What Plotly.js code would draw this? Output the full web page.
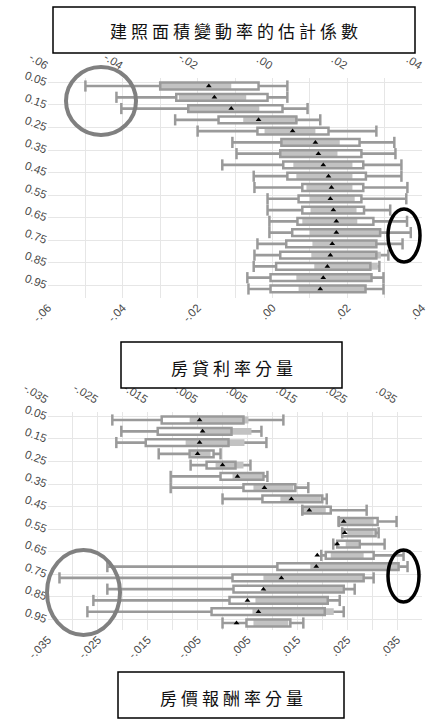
<!DOCTYPE html>
<html>
<head>
<meta charset="utf-8">
<script src="https://cdn.plot.ly/plotly-3.0.1.min.js"></script>
<style>
  html, body { margin: 0; padding: 0; background: #fff; }
  #chart { width: 440px; height: 720px; }
  #chart .annotation-text { letter-spacing: 4px; }
</style>
</head>
<body>
<div id="chart"></div>
<script>
// ---------- data ----------
const quantiles = [0.05,0.10,0.15,0.20,0.25,0.30,0.35,0.40,0.45,0.50,0.55,0.60,0.65,0.70,0.75,0.80,0.85,0.90,0.95];
const yTickRows = [0.05,0.15,0.25,0.35,0.45,0.55,0.65,0.75,0.85,0.95];
const yTickLabels = ['0.05','0.15','0.25','0.35','0.45','0.55','0.65','0.75','0.85','0.95'];

const titleMain = '建照面積變動率的估計係數';
const titlePanel1 = '房貸利率分量';
const titlePanel2 = '房價報酬率分量';

// panel 1
const p1TickVals = [-0.06,-0.05,-0.04,-0.03,-0.02,-0.01,0.00,0.01,0.02,0.03,0.04];
const p1TickText = ['-.06','','-.04','','-.02','','.00','','.02','','.04'];
const p1WhiskerLow  = [-0.050,-0.0417,-0.0404,-0.026,-0.020,-0.0107,-0.0096,-0.0134,-0.005,-0.0048,-0.0013,-0.0013,-0.0008,-0.0008,-0.004,-0.0048,-0.005,-0.0067,-0.0064];
const p1WhiskerHigh = [0.004,0.004,0.0094,0.0128,0.0278,0.0326,0.0329,0.0345,0.0345,0.0361,0.0358,0.0315,0.036,0.037,0.0348,0.031,0.0286,0.0297,0.0297];
const p1BoxLow      = [-0.030,-0.0257,-0.0225,-0.0144,-0.004,0.0024,0.0021,0.0029,0.004,0.008,0.007,0.008,0.0067,0.0053,0.0037,0.0021,0.001,-0.0005,-0.0005];
const p1BoxHigh     = [-0.0037,-0.0013,0.0027,0.0064,0.015,0.0233,0.0238,0.0243,0.025,0.0243,0.0238,0.0245,0.027,0.0288,0.0278,0.0278,0.0262,0.0265,0.0249];
const p1ShadeLow    = [-0.030,-0.025,-0.0225,-0.0078,-0.0021,0.0024,0.0021,0.0056,0.0064,0.0091,0.0099,0.0102,0.008,0.0099,0.0107,0.0104,0.0112,0.0064,0.007];
const p1ShadeHigh   = [-0.011,-0.007,-0.0035,0.0067,0.0115,0.018,0.0174,0.0214,0.0214,0.0214,0.022,0.0225,0.0227,0.0291,0.0278,0.029,0.0282,0.0265,0.0249];
const p1Point       = [-0.017,-0.0155,-0.011,-0.0037,0.0054,0.0115,0.0123,0.0136,0.015,0.0158,0.0155,0.0163,0.0171,0.0171,0.016,0.0155,0.0147,0.0136,0.0128];

// panel 2
const p2TickVals = [-0.035,-0.03,-0.025,-0.02,-0.015,-0.01,-0.005,0,0.005,0.01,0.015,0.02,0.025,0.03,0.035,0.04];
const p2TickText = ['-.035','','-.025','','-.015','','-.005','','.005','','.015','','.025','','.035',''];
const p2WhiskerLow  = [-0.0221,-0.0203,-0.0213,-0.0128,-0.0064,-0.0104,-0.0104,0.0,0.016,0.0233,0.024,0.0222,0.0198,-0.0231,-0.0327,-0.0231,-0.0259,-0.0271,0.0];
const p2WhiskerHigh = [0.0122,0.0078,0.0088,-0.0004,0.0056,0.009,0.0172,0.0209,0.0289,0.0349,0.0313,0.0325,0.0363,0.0371,0.0303,0.0265,0.0235,0.0243,0.0162];
const p2BoxLow      = [-0.0122,-0.013,-0.0154,-0.0066,-0.0032,-0.0004,0.0042,0.008,0.016,0.0233,0.024,0.023,0.0207,0.011,0.002,0.0022,0.0014,-0.0022,0.0048];
const p2BoxHigh     = [0.0042,0.0018,0.0012,-0.0018,0.0026,0.0082,0.0146,0.02,0.0217,0.0311,0.0307,0.0275,0.0303,0.0353,0.0283,0.0243,0.0211,0.0205,0.0136];
const p2ShadeLow    = [-0.0066,-0.0044,-0.0074,-0.0064,-0.0014,0.002,0.0062,0.0116,0.016,0.0233,0.025,0.0247,0.0217,0.0176,0.0082,0.0082,0.0066,0.006,0.0062];
const p2ShadeHigh   = [0.0052,0.0058,0.0044,-0.0024,0.0042,0.008,0.0142,0.0197,0.0207,0.0303,0.0303,0.0273,0.0283,0.0355,0.0283,0.0241,0.021,0.0223,0.0132];
const p2Point       = [-0.0046,-0.004,-0.0046,-0.005,0.0,0.003,0.0084,0.0138,0.0174,0.0243,0.0245,0.023,0.019,0.0188,0.0118,0.0082,0.005,0.0072,0.0028];

// ---------- style ----------
const W = 440, H = 720;
const gray = '#9a9a9a';
const shadeCol = '#c2c2c2';
const gridCol = '#e6e6e6';
const tickFont = {family: 'Liberation Sans, Arial, sans-serif', size: 11.5, color: '#4a4a4a'};
const titleFont = {family: 'Noto Sans CJK TC, sans-serif', size: 17, color: '#111'};
const px = p => p / W;
const py = p => 1 - p / H;

function diff(a, b) { return a.map((v, i) => b[i] - v); }

function panelTraces(xa, ya, xTop, wl, wh, bl, bh, sl, sh, pt) {
  const common = {type: 'bar', orientation: 'h', y: quantiles, xaxis: xa, yaxis: ya, hoverinfo: 'skip', showlegend: false};
  return [
    Object.assign({}, common, {base: wl, x: diff(wl, wh), width: 0.012, marker: {color: gray, line: {width: 0}}}),
    Object.assign({}, common, {base: bl, x: diff(bl, bh), width: 0.03, marker: {color: '#ffffff', line: {width: 0}}}),
    Object.assign({}, common, {base: sl, x: diff(sl, sh), width: 0.03, marker: {color: shadeCol, line: {width: 0}}}),
    Object.assign({}, common, {base: bl, x: diff(bl, bh), width: 0.03, marker: {color: 'rgba(0,0,0,0)', line: {color: gray, width: 2.5}}}),
    {type: 'scatter', mode: 'markers', x: wl.concat(wh), y: quantiles.concat(quantiles), xaxis: xa, yaxis: ya,
     marker: {symbol: 'line-ns', size: 8, color: gray, line: {color: gray, width: 2.5}}, hoverinfo: 'skip', showlegend: false},
    {type: 'scatter', mode: 'markers', x: pt, y: quantiles, xaxis: xa, yaxis: ya,
     marker: {symbol: 'triangle-up', size: 5, color: '#000'}, hoverinfo: 'skip', showlegend: false},
    // invisible copy of the points on the mirrored top axis so that the top axis is drawn
    {type: 'scatter', mode: 'markers', x: pt, y: quantiles, xaxis: xTop, yaxis: ya,
     marker: {size: 1, color: 'rgba(0,0,0,0)'}, hoverinfo: 'skip', showlegend: false}
  ];
}

const traces = [].concat(
  panelTraces('x', 'y', 'x3', p1WhiskerLow, p1WhiskerHigh, p1BoxLow, p1BoxHigh, p1ShadeLow, p1ShadeHigh, p1Point),
  panelTraces('x2', 'y2', 'x4', p2WhiskerLow, p2WhiskerHigh, p2BoxLow, p2BoxHigh, p2ShadeLow, p2ShadeHigh, p2Point)
);

const xDomain = [px(48), px(422)];
const yTickPos = yTickRows.map(v => v - 0.016);

function xAxis(range, vals, text, anchor, extra) {
  return Object.assign({
    domain: xDomain, range: range, anchor: anchor, tickmode: 'array', tickvals: vals, ticktext: text,
    showgrid: true, gridcolor: gridCol, gridwidth: 1, zeroline: false, showline: false, ticks: '',
    tickfont: tickFont, fixedrange: true
  }, extra);
}
function yAxis(domain, range, anchor) {
  return {
    domain: domain, range: range, anchor: anchor, tickmode: 'array', tickvals: yTickPos, ticktext: yTickLabels,
    tickangle: 20, showgrid: true, gridcolor: gridCol, gridwidth: 1, zeroline: false, showline: false, ticks: '',
    tickfont: tickFont, fixedrange: true
  };
}

const p1Range = [p1TickVals[0], p1TickVals[p1TickVals.length - 1]];
const p2Range = [p2TickVals[0], p2TickVals[p2TickVals.length - 1]];

const layout = {
  width: W, height: H,
  margin: {l: 0, r: 0, t: 0, b: 0},
  paper_bgcolor: '#fff', plot_bgcolor: '#fff',
  barmode: 'overlay',
  showlegend: false,
  xaxis: xAxis(p1Range, p1TickVals, p1TickText, 'y', {tickangle: -45}),
  xaxis3: xAxis(p1Range, p1TickVals, p1TickText, 'y', {overlaying: 'x', side: 'top', tickangle: 32, showgrid: false, ticklabelstandoff: 4}),
  yaxis: yAxis([py(298), py(78)], [0.99, 0.0145], 'x'),
  xaxis2: xAxis(p2Range, p2TickVals, p2TickText, 'y2', {tickangle: -45}),
  xaxis4: xAxis(p2Range, p2TickVals, p2TickText, 'y2', {overlaying: 'x2', side: 'top', tickangle: 32, showgrid: false, ticklabelstandoff: 4}),
  yaxis2: yAxis([py(630), py(412)], [0.981, 0.0145], 'x2'),
  shapes: [
    {type: 'rect', xref: 'paper', yref: 'paper', x0: px(53), x1: px(415), y0: py(53), y1: py(7), line: {color: '#000', width: 1.5}, fillcolor: '#fff'},
    {type: 'rect', xref: 'paper', yref: 'paper', x0: px(121), x1: px(342), y0: py(388), y1: py(342), line: {color: '#000', width: 1.5}, fillcolor: '#fff'},
    {type: 'rect', xref: 'paper', yref: 'paper', x0: px(118), x1: px(344), y0: py(718), y1: py(672), line: {color: '#000', width: 1.5}, fillcolor: '#fff'},
    {type: 'circle', xref: 'paper', yref: 'paper', x0: px(66), x1: px(136), y0: py(135), y1: py(67), line: {color: '#808080', width: 4}},
    {type: 'circle', xref: 'paper', yref: 'paper', x0: px(388), x1: px(420), y0: py(262), y1: py(209), line: {color: '#000', width: 3.5}},
    {type: 'circle', xref: 'paper', yref: 'paper', x0: px(47), x1: px(120), y0: py(635), y1: py(550), line: {color: '#808080', width: 4}},
    {type: 'circle', xref: 'paper', yref: 'paper', x0: px(388), x1: px(419), y0: py(602), y1: py(550), line: {color: '#000', width: 3.5}}
  ],
  annotations: [
    {text: titleMain, xref: 'paper', yref: 'paper', x: px(236), y: py(31), xanchor: 'center', yanchor: 'middle', showarrow: false, font: titleFont},
    {text: titlePanel1, xref: 'paper', yref: 'paper', x: px(234), y: py(367), xanchor: 'center', yanchor: 'middle', showarrow: false, font: titleFont},
    {text: titlePanel2, xref: 'paper', yref: 'paper', x: px(233), y: py(697), xanchor: 'center', yanchor: 'middle', showarrow: false, font: titleFont}
  ]
};

Plotly.newPlot('chart', traces, layout, {staticPlot: true, displayModeBar: false});
</script>
</body>
</html>
